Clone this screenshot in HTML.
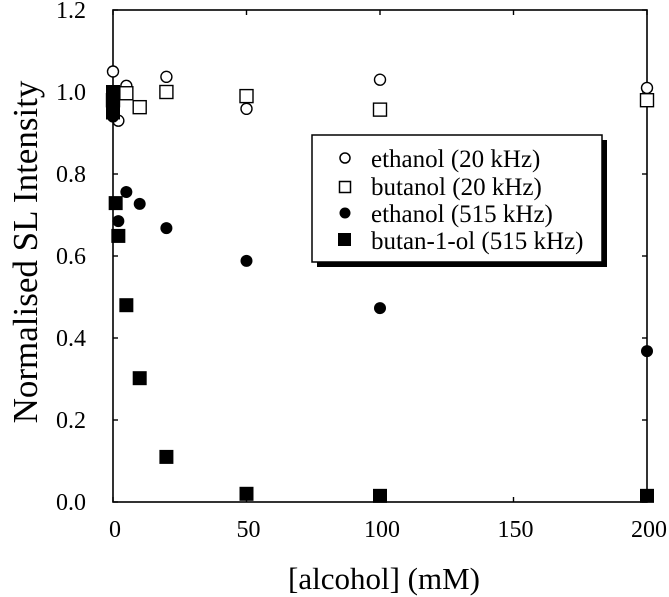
<!DOCTYPE html>
<html><head><meta charset="utf-8"><style>
html,body{margin:0;padding:0;background:#fff;}
svg{display:block;font-family:"Liberation Serif",serif;}
</style></head><body>
<svg id="chart" width="669" height="597" viewBox="0 0 669 597">
<g id="axes"></g>
<g id="marks"></g>
<text x="384" y="589" text-anchor="middle" font-size="31">[alcohol] (mM)</text>
<text transform="translate(37,252) rotate(-90)" text-anchor="middle" font-size="35">Normalised SL Intensity</text>
<g>
<rect x="317" y="140" width="290" height="127" fill="#000"/>
<rect x="312" y="135" width="290" height="127" fill="#fff" stroke="#000" stroke-width="1.5"/>
<g><circle cx="345" cy="158" r="5" fill="#fff" stroke="#000" stroke-width="1.5"/><text x="371" y="167" font-size="25">ethanol (20 kHz)</text></g>
<g><rect x="339.5" y="181.5" width="11" height="11" fill="#fff" stroke="#000" stroke-width="1.5"/><text x="371" y="195" font-size="25">butanol (20 kHz)</text></g>
<g><circle cx="345" cy="213" r="5.5" fill="#000"/><text x="371" y="222" font-size="25">ethanol (515 kHz)</text></g>
<g><rect x="338" y="233" width="13" height="13" fill="#000"/><text x="371" y="249" font-size="25">butan-1-ol (515 kHz)</text></g>
</g>
</svg>
<script>
const xTicks = [0, 50, 100, 150, 200];
const yTicks = [0.0, 0.2, 0.4, 0.6, 0.8, 1.0, 1.2];
const eth20X = [0, 2, 5, 10, 20, 50, 100, 200];
const eth20Y = [1.05, 0.93, 1.015, 0.963, 1.037, 0.959, 1.03, 1.01];
const but20X = [0, 5, 10, 20, 50, 100, 200];
const but20Y = [0.98, 0.997, 0.963, 1.0, 0.99, 0.957, 0.98];
const eth515X = [0, 0, 2, 5, 10, 20, 50, 100, 200];
const eth515Y = [0.96, 0.94, 0.685, 0.756, 0.727, 0.668, 0.588, 0.473, 0.368];
const but515X = [0, 0, 0, 1, 2, 5, 10, 20, 50, 100, 200];
const but515Y = [1.0, 0.97, 0.95, 0.729, 0.649, 0.48, 0.302, 0.11, 0.02, 0.015, 0.015];

const L=113, R=647, T=10, B=502;
const sx = v => L + (v - 0) / 200 * (R - L);
const sy = v => B - v / 1.2 * (B - T);
const NS = "http://www.w3.org/2000/svg";
function mk(tag, attrs, parent){const e=document.createElementNS(NS,tag);for(const k in attrs)e.setAttribute(k,attrs[k]);parent.appendChild(e);return e;}
const axes=document.getElementById('axes'), marks=document.getElementById('marks');
const frame = mk('rect',{x:L,y:T,width:R-L,height:B-T,fill:'none',stroke:'#000','stroke-width':1.6},axes);


xTicks.forEach(v=>{
  const x=sx(v);
  const t1=mk('line',{x1:x,x2:x,y1:B,y2:B-5,stroke:'#000','stroke-width':1.4},axes);
  
  
  const t2=mk('line',{x1:x,x2:x,y1:T,y2:T+5,stroke:'#000','stroke-width':1.4},axes);
  
  
  const lb=mk('text',{x:x+2,y:B+35,'text-anchor':'middle','font-size':24},axes);
  lb.textContent=String(v);
  
  
});
yTicks.forEach(v=>{
  const y=sy(v);
  const t1=mk('line',{x1:L,x2:L+5,y1:y,y2:y,stroke:'#000','stroke-width':1.4},axes);
  
  
  const t2=mk('line',{x1:R,x2:R-5,y1:y,y2:y,stroke:'#000','stroke-width':1.4},axes);
  
  
  const lb=mk('text',{x:86,y:y+8,'text-anchor':'end','font-size':24},axes);
  lb.textContent=v.toFixed(1);
  
  
});
eth20X.forEach((xv,i)=>{
  const c=mk('circle',{cx:sx(xv),cy:sy(eth20Y[i]),r:5.5,fill:'#fff',stroke:'#000','stroke-width':1.4},marks);
  
  
});
but20X.forEach((xv,i)=>{
  const c=mk('rect',{x:sx(xv)-6.5,y:sy(but20Y[i])-6.5,width:13,height:13,fill:'#fff',stroke:'#000','stroke-width':1.4},marks);
  
  
});
eth515X.forEach((xv,i)=>{
  const c=mk('circle',{cx:sx(xv),cy:sy(eth515Y[i]),r:6,fill:'#000'},marks);
  
  
});
but515X.forEach((xv,i)=>{
  const c=mk('rect',{x:sx(xv)-7,y:sy(but515Y[i])-7,width:14,height:14,fill:'#000'},marks);
  
  
});
</script>
</body></html>
